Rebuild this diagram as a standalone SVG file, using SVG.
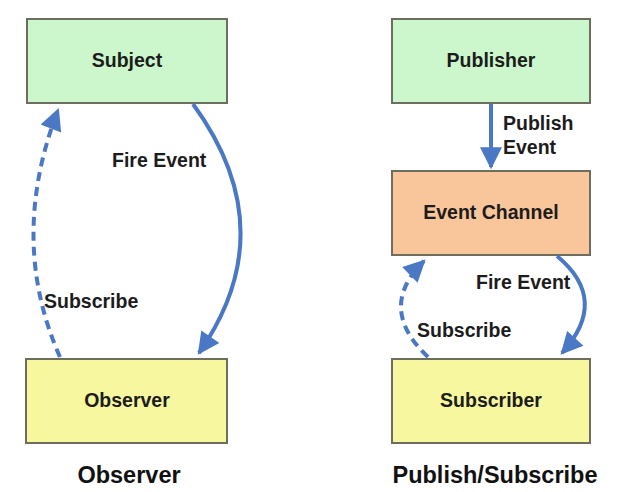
<svg xmlns="http://www.w3.org/2000/svg" width="619" height="492" viewBox="0 0 619 492">
<style>
.box{stroke:#6e6e5e;stroke-width:2}
.green{fill:#ccf7cc}
.yellow{fill:#f7f7a0}
.orange{fill:#f9c69b}
.lbl{font-family:"Liberation Sans",Arial,sans-serif;font-weight:bold;font-size:19.5px;fill:#1c1c1c}
.cap{font-family:"Liberation Sans",Arial,sans-serif;font-weight:bold;font-size:23.5px;fill:#111}
.con{fill:none;stroke:#4b78c4;stroke-width:4}
.dash{stroke-dasharray:9 6}
</style>
<defs>
<marker id="ah" viewBox="0 0 10 10" refX="9" refY="5" markerWidth="6" markerHeight="5.5" markerUnits="strokeWidth" orient="auto">
<path d="M0,0 L10,5 L0,10 Z" fill="#4b78c4"/>
</marker>
</defs>
<rect width="619" height="492" fill="#ffffff"/>
<g id="subject"><rect class="box green" x="27" y="19" width="200" height="84"/><text class="lbl" x="127" y="67" text-anchor="middle">Subject</text></g>
<g id="observer"><rect class="box yellow" x="26" y="359" width="201" height="84"/><text class="lbl" x="127" y="407" text-anchor="middle">Observer</text></g>
<g id="publisher"><rect class="box green" x="392" y="19" width="198" height="84"/><text class="lbl" x="491" y="67" text-anchor="middle">Publisher</text></g>
<g id="channel"><rect class="box orange" x="392" y="171" width="198" height="84"/><text class="lbl" x="491" y="219" text-anchor="middle">Event Channel</text></g>
<g id="subscriber"><rect class="box yellow" x="392" y="359" width="198" height="84"/><text class="lbl" x="491" y="407" text-anchor="middle">Subscriber</text></g>
<g id="connectors">
<path class="con" d="M193,104 Q285,230 199,353" marker-end="url(#ah)"/>
<path class="con dash" d="M60,357 Q8,240 58,110" marker-end="url(#ah)"/>
<path class="con" d="M491,104 L491,167" marker-end="url(#ah)"/>
<path class="con" d="M557,256 Q610,300 562,353" marker-end="url(#ah)"/>
<path class="con dash" d="M428,357 Q376,308 424,261" marker-end="url(#ah)"/>
</g>
<g id="labels">
<text class="lbl" x="112" y="167">Fire Event</text>
<text class="lbl" x="44" y="308">Subscribe</text>
<text class="lbl" x="503" y="130">Publish</text>
<text class="lbl" x="503" y="154">Event</text>
<text class="lbl" x="476" y="289">Fire Event</text>
<text class="lbl" x="417" y="337">Subscribe</text>
<text class="cap" x="129" y="483" text-anchor="middle">Observer</text>
<text class="cap" x="495" y="483" text-anchor="middle">Publish/Subscribe</text>
</g>
</svg>
